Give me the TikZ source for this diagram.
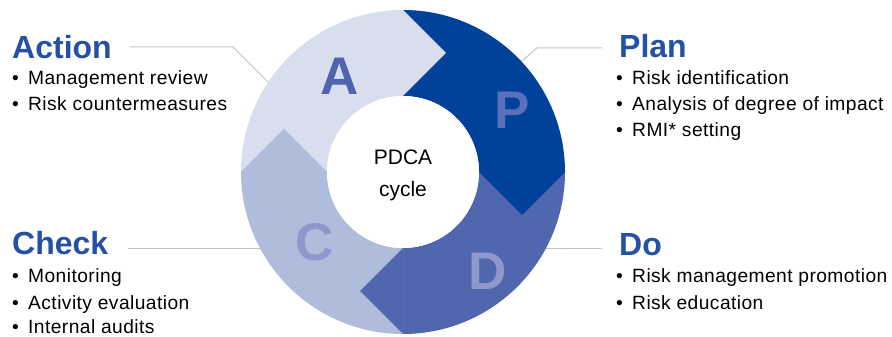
\documentclass[tikz,border=0pt]{standalone}
\usepackage{fontspec}
\setmainfont{Liberation Sans}
\newfontfamily\bulfont[LetterSpace=2.3]{Liberation Sans}
\definecolor{headblue}{HTML}{2351A5}
\definecolor{segP}{HTML}{00419A}
\definecolor{segD}{HTML}{5066AF}
\definecolor{segC}{HTML}{AFBCDC}
\definecolor{segA}{HTML}{D9DEEF}
\definecolor{letA}{HTML}{4F63B0}
\definecolor{letP}{HTML}{5B70BA}
\definecolor{letC}{HTML}{8E98CD}
\definecolor{letD}{HTML}{8E98CB}
\definecolor{leader}{HTML}{C4C4C4}
\newcommand{\bulitem}[1]{\makebox[16pt][l]{•}#1}
\begin{document}
\begin{tikzpicture}[x=1pt,y=1pt,
  heading/.style={anchor=base west,inner sep=0pt,text=headblue,font=\bfseries\fontsize{32}{38}\selectfont},
  bulletline/.style={anchor=base west,inner sep=0pt,text=black,font=\bulfont\fontsize{19.2}{22}\selectfont},
  bigletter/.style={inner sep=0pt,font=\bfseries\fontsize{53}{60}\selectfont},
  leaderline/.style={draw=leader,line width=1pt}]
\useasboundingbox (0,0) rectangle (892,337);
% leader lines
\coordinate (a1) at (130,290); \coordinate (a2) at (233,290); \coordinate (a3) at (275,248);
\coordinate (p1) at (602,289); \coordinate (p2) at (537,289); \coordinate (p3) at (515,270);
\coordinate (c1) at (128,88); \coordinate (c2) at (275,88);
\coordinate (d1) at (530,88); \coordinate (d2) at (602,88);
\draw[leaderline] (a1) -- (a2) -- (a3);
\draw[leaderline] (p1) -- (p2) -- (p3);
\draw[leaderline] (c1) -- (c2);
\draw[leaderline] (d1) -- (d2);
% ring
\begin{scope}[shift={(403,165)}]
  \fill[segP] (90:162) arc[start angle=90,end angle=0,radius=162] -- (0:76) arc[start angle=0,end angle=90,radius=76] -- cycle;
  \fill[segD] (0:162) arc[start angle=0,end angle=-90,radius=162] -- (-90:76) arc[start angle=-90,end angle=0,radius=76] -- cycle;
  \fill[segC] (-90:162) arc[start angle=-90,end angle=-180,radius=162] -- (180:76) arc[start angle=180,end angle=270,radius=76] -- cycle;
  \fill[segA] (180:162) arc[start angle=180,end angle=90,radius=162] -- (90:76) arc[start angle=90,end angle=180,radius=76] -- cycle;
  % tips
  \fill[segA] (0,76) -- (0,162) -- (43,119) -- cycle;
  \fill[segP] (76,0) -- (162,0) -- (119,-43) -- cycle;
  \fill[segD] (0,-76) -- (0,-162) -- (-43,-119) -- cycle;
  \fill[segC] (-76,0) -- (-162,0) -- (-119,43) -- cycle;
  \fill[white] (0,0) circle[radius=76];
\end{scope}
\node[bigletter,text=letA] (LA) at (339.5,261) {A};
\node[bigletter,text=letP] (LP) at (512,226.5) {P};
\node[bigletter,text=letC] (LC) at (315,94.5) {C};
\node[bigletter,text=letD] (LD) at (488,66) {D};
\node[align=center,inner sep=0pt,font=\fontsize{21}{32}\selectfont] (center) at (403,161.5) {PDCA\\cycle};
% Action
\node[heading] (acttitle) at (12,278) {Action};
\node[bulletline] (act1) at (12,252) {\bulitem{Management review}};
\node[bulletline] (act2) at (12,226) {\bulitem{Risk countermeasures}};
% Plan
\node[heading] (plantitle) at (619,279) {Plan};
\node[bulletline] (plan1) at (616,252) {\bulitem{Risk identification}};
\node[bulletline] (plan2) at (616,226) {\bulitem{Analysis of degree of impact}};
\node[bulletline] (plan3) at (616,200) {\bulitem{RMI* setting}};
% Check
\node[heading] (chktitle) at (12,82) {Check};
\node[bulletline] (chk1) at (12,54) {\bulitem{Monitoring}};
\node[bulletline] (chk2) at (12,27) {\bulitem{Activity evaluation}};
\node[bulletline] (chk3) at (12,3) {\bulitem{Internal audits}};
% Do
\node[heading] (dotitle) at (619,81) {Do};
\node[bulletline] (do1) at (616,54) {\bulitem{Risk management promotion}};
\node[bulletline] (do2) at (616,27) {\bulitem{Risk education}};
\end{tikzpicture}
\end{document}
